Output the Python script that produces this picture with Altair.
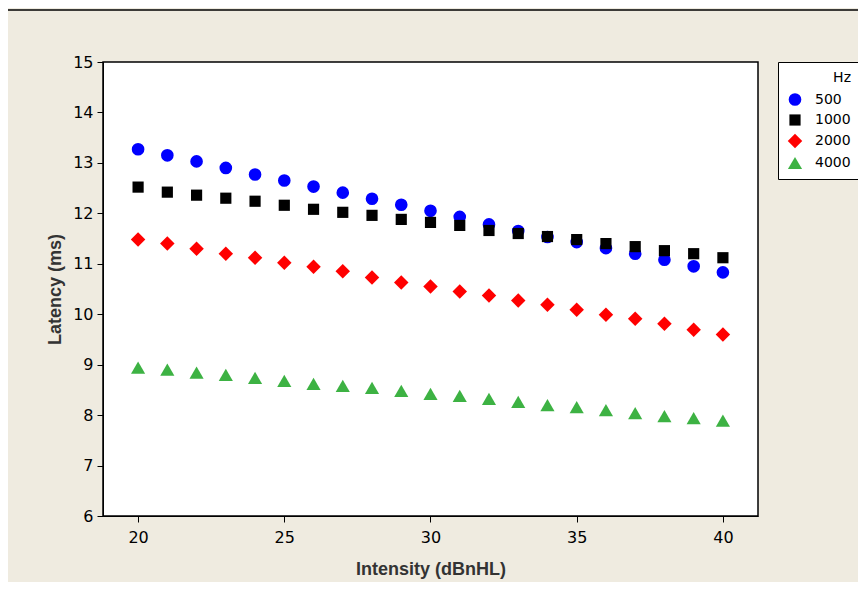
import altair as alt
import pandas as pd

intensity = list(range(20, 41))
hz_labels = ["500", "1000", "2000", "4000"]
lat_500 = [13.27, 13.15, 13.03, 12.90, 12.77, 12.65, 12.53, 12.41, 12.29, 12.17, 12.05,
           11.93, 11.78, 11.65, 11.53, 11.43, 11.31, 11.20, 11.08, 10.95, 10.83]
lat_1000 = [12.52, 12.42, 12.36, 12.30, 12.24, 12.16, 12.08, 12.02, 11.96, 11.88, 11.82,
            11.76, 11.66, 11.60, 11.54, 11.48, 11.40, 11.34, 11.26, 11.20, 11.12]
lat_2000 = [11.48, 11.40, 11.30, 11.20, 11.12, 11.02, 10.94, 10.85, 10.73, 10.63, 10.55,
            10.45, 10.37, 10.27, 10.19, 10.09, 9.99, 9.91, 9.81, 9.69, 9.60]
lat_4000 = [8.94, 8.90, 8.84, 8.80, 8.74, 8.68, 8.62, 8.58, 8.54, 8.48, 8.42,
            8.38, 8.32, 8.26, 8.20, 8.16, 8.10, 8.04, 7.98, 7.94, 7.89]

series = {"500": lat_500, "1000": lat_1000, "2000": lat_2000, "4000": lat_4000}
rows = []
for hz in hz_labels:
    for x, y in zip(intensity, series[hz]):
        rows.append({"Intensity": x, "Latency": y, "Hz": hz})
df = pd.DataFrame(rows)

FONT = "DejaVu Sans"
TFONT = "Liberation Sans"

points = alt.Chart(df).mark_point(filled=True, opacity=1, strokeWidth=0).encode(
    x=alt.X("Intensity:Q",
            scale=alt.Scale(domain=[18.8, 41.2], nice=False, zero=False),
            axis=alt.Axis(title="Intensity (dBnHL)", values=[20, 25, 30, 35, 40],
                          grid=False, tickSize=6, tickColor="black", domainColor="black",
                          labelFontSize=16, labelFont=FONT, labelColor="black", labelPadding=7,
                          titleFont=TFONT, titleFontSize=18, titleFontWeight="bold",
                          titleColor="#333333", titlePadding=15)),
    y=alt.Y("Latency:Q",
            scale=alt.Scale(domain=[6, 15], nice=False, zero=False),
            axis=alt.Axis(title="Latency (ms)", values=list(range(6, 16)),
                          grid=False, tickSize=6, tickColor="black", domainColor="black",
                          labelFontSize=16, labelFont=FONT, labelColor="black", labelPadding=4,
                          titleFont=TFONT, titleFontSize=18, titleFontWeight="bold",
                          titleColor="#333333", titlePadding=8)),
    color=alt.Color("Hz:N", sort=hz_labels,
                    scale=alt.Scale(domain=hz_labels,
                                    range=["#0000FF", "#000000", "#FF0000", "#3DB243"]),
                    legend=alt.Legend(title="Hz", orient="none", legendX=675, legendY=0,
                                      strokeColor="black", fillColor="white", padding=9,
                                      titleAnchor="end", titleFont=FONT, titleFontSize=14,
                                      titleFontWeight="normal", titleColor="black",
                                      titlePadding=7,
                                      labelFont=FONT, labelFontSize=14, labelColor="black",
                                      labelOffset=12, rowPadding=6, cornerRadius=0)),
    shape=alt.Shape("Hz:N", sort=hz_labels,
                    scale=alt.Scale(domain=hz_labels,
                                    range=["circle", "square", "diamond", "triangle-up"])),
    size=alt.Size("Hz:N", sort=hz_labels,
                  scale=alt.Scale(type="ordinal", domain=hz_labels, range=[160, 125, 210, 200]),
                  legend=None),
)

frame = alt.Chart(pd.DataFrame({"k": [0]})).mark_rule(color="black", strokeWidth=1.5).encode(
    x=alt.value(-96), x2=alt.value(760), y=alt.value(-52)
)
frame_left = alt.Chart(pd.DataFrame({"k": [0]})).mark_rule(color="black", strokeWidth=1.5).encode(
    x=alt.value(-96), y=alt.value(-52), y2=alt.value(520)
)

chart = alt.layer(frame, frame_left, points).properties(
    width=655, height=454,
    autosize=alt.AutoSizeParams(type="none"),
    padding={"left": 95, "top": 54, "right": 100, "bottom": 66},
    background="#EFEBE0",
).configure_view(stroke="black", strokeWidth=1.5, fill="white")

chart.save("out.html", embed_options={"renderer": "svg", "actions": False})
